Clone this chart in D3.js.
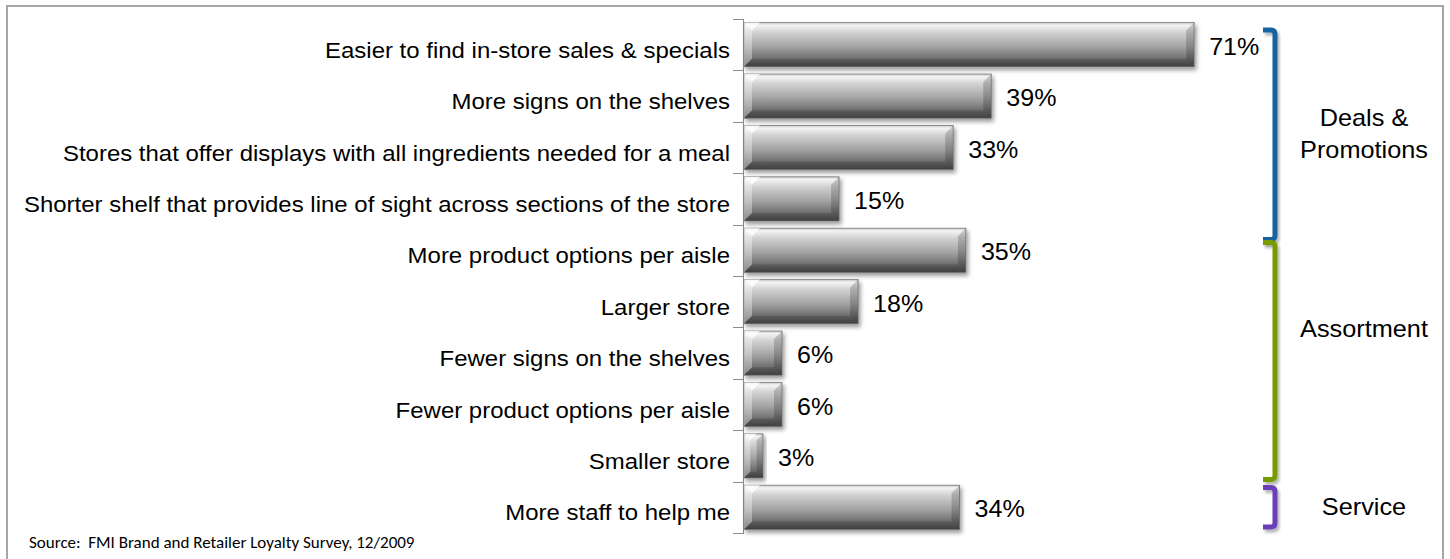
<!DOCTYPE html>
<html>
<head>
<meta charset="utf-8">
<script src="https://cdn.jsdelivr.net/npm/d3@7"></script>
<style>
  html, body { margin: 0; padding: 0; background: #fff; }
  svg { display: block; }
  text { white-space: pre; }
</style>
</head>
<body>
<svg id="chart" width="1450" height="559"></svg>
<script>
// Survey answers, top to bottom
const categories = [
  "Easier to find in-store sales & specials",
  "More signs on the shelves",
  "Stores that offer displays with all ingredients needed for a meal",
  "Shorter shelf that provides line of sight across sections of the store",
  "More product options per aisle",
  "Larger store",
  "Fewer signs on the shelves",
  "Fewer product options per aisle",
  "Smaller store",
  "More staff to help me"
];
const values = [71, 39, 33, 15, 35, 18, 6, 6, 3, 34];

// Theme groups: label lines, first and last answer index
const groupNames = [["Deals &", "Promotions"], ["Assortment"], ["Service"]];
const groupFirst = [0, 4, 9];
const groupLast  = [3, 8, 9];
const groupColors = ["#15649f", "#789c00", "#6b3fb8"];

const sourceNote = "Source:  FMI Brand and Retailer Loyalty Survey, 12/2009";

// ---- layout ----
const W = 1450, H = 559;
const axisX = 744;
const svg = d3.select("#chart");

const y = d3.scaleBand()
  .domain(d3.range(categories.length))
  .range([19, 533])
  .paddingInner(0.14)
  .paddingOuter(0.07);
const step = y.step();
const x = d3.scaleLinear().domain([0, 100]).range([axisX, axisX + 634]);

const defs = svg.append("defs");
const grad = defs.append("linearGradient")
  .attr("id", "barFill").attr("x1", 0).attr("y1", 0).attr("x2", 0).attr("y2", 1);
[[0, "#c4c4c4"], [0.06, "#f4f4f4"], [0.22, "#d2d2d2"], [0.55, "#a2a2a2"],
 [0.85, "#686868"], [1, "#4a4a4a"]].forEach(([o, c]) =>
  grad.append("stop").attr("offset", o).attr("stop-color", c));

const shadow = defs.append("filter").attr("id", "shadow")
  .attr("x", "-10%").attr("y", "-20%").attr("width", "130%").attr("height", "160%");
shadow.append("feDropShadow").attr("dx", 2).attr("dy", 3)
  .attr("stdDeviation", 2).attr("flood-color", "#000").attr("flood-opacity", 0.4);

const bshadow = defs.append("filter").attr("id", "bshadow")
  .attr("x", "-50%").attr("y", "-10%").attr("width", "200%").attr("height", "130%");
bshadow.append("feDropShadow").attr("dx", 2).attr("dy", 3)
  .attr("stdDeviation", 1.5).attr("flood-color", "#000").attr("flood-opacity", 0.3);

// outer frame
svg.append("rect")
  .attr("x", 7).attr("y", 6).attr("width", W - 14).attr("height", H)
  .attr("fill", "none").attr("stroke", "#a6a6a6").attr("stroke-width", 2);

// category axis with ticks on the band boundaries
const axisG = svg.append("g").attr("stroke", "#8c8c8c").attr("stroke-width", 1);
const y0 = y.range()[0], y1 = y.range()[1];
axisG.append("line")
  .attr("x1", axisX - 0.5).attr("x2", axisX - 0.5).attr("y1", y0).attr("y2", y1);
axisG.selectAll("line.tick")
  .data(d3.range(categories.length + 1))
  .join("line").attr("class", "tick")
  .attr("x1", axisX - 11).attr("x2", axisX)
  .attr("y1", i => Math.round(y0 + i * step) + 0.5)
  .attr("y2", i => Math.round(y0 + i * step) + 0.5);

// category labels
svg.append("g").selectAll("text")
  .data(categories)
  .join("text")
  .attr("transform", (d, i) => `translate(${axisX - 14},${y(i) + y.bandwidth() / 2 + 13}) scale(1.09,1)`)
  .attr("text-anchor", "end")
  .attr("font-family", "'Liberation Sans', Arial, sans-serif")
  .attr("font-size", 22)
  .attr("fill", "#000")
  .text(d => d);

// bars with bevelled ends
const bars = svg.append("g").selectAll("g.bar")
  .data(values)
  .join("g").attr("class", "bar");

bars.append("rect")
  .attr("x", x(0))
  .attr("y", (d, i) => y(i))
  .attr("width", d => x(d) - x(0))
  .attr("height", y.bandwidth())
  .attr("fill", "url(#barFill)")
  .attr("stroke", "#7c7c7c")
  .attr("stroke-width", 0.8)
  .attr("filter", "url(#shadow)");

const bevel = w => Math.min(8, w / 3);
// left bevel (lit)
bars.append("polygon")
  .attr("points", (d, i) => {
    const xa = x(0), xb = x(d), b = bevel(xb - xa), ya = y(i), yb = ya + y.bandwidth();
    return [[xa, ya], [xa + b, ya + b], [xa + b, yb - b], [xa, yb]].join(" ");
  })
  .attr("fill", "#fff").attr("fill-opacity", 0.35);
// top-left corner highlight
bars.append("polygon")
  .attr("points", (d, i) => {
    const xa = x(0), xb = x(d), b = bevel(xb - xa), ya = y(i);
    return [[xa, ya], [xa + b * 2, ya], [xa + b, ya + b]].join(" ");
  })
  .attr("fill", "#fff").attr("fill-opacity", 0.8);
// right bevel (shaded)
bars.append("polygon")
  .attr("points", (d, i) => {
    const xa = x(0), xb = x(d), b = bevel(xb - xa), ya = y(i), yb = ya + y.bandwidth();
    return [[xb, ya], [xb - b, ya + b], [xb - b, yb - b], [xb, yb]].join(" ");
  })
  .attr("fill", "#000").attr("fill-opacity", 0.18);
// bottom edge
bars.append("polygon")
  .attr("points", (d, i) => {
    const xa = x(0), xb = x(d), b = bevel(xb - xa), ya = y(i), yb = ya + y.bandwidth();
    return [[xa, yb], [xa + b, yb - b], [xb - b, yb - b], [xb, yb]].join(" ");
  })
  .attr("fill", "#000").attr("fill-opacity", 0.15);

// value labels
svg.append("g").selectAll("text")
  .data(values)
  .join("text")
  .attr("transform", (d, i) => `translate(${x(d) + 15},${y(i) + y.bandwidth() / 2 + 10}) scale(1.09,1)`)
  .attr("font-family", "'Liberation Sans', Arial, sans-serif")
  .attr("font-size", 23)
  .attr("fill", "#000")
  .text(d => d + "%");

// theme brackets on the right
const bracketX = 1275, hook = 12;
const bracketInset = [[11, 15], [18, -2], [6, -6]];
const labelX = 1364;
const labelShift = [-1, -32, 0];

groupNames.forEach((lines, g) => {
  const top = y0 + groupFirst[g] * step + bracketInset[g][0];
  const bottom = y0 + (groupLast[g] + 1) * step + bracketInset[g][1];
  const r = 4;
  const path = d3.path();
  path.moveTo(bracketX - hook, top);
  path.lineTo(bracketX - r, top);
  path.quadraticCurveTo(bracketX, top, bracketX, top + r);
  path.lineTo(bracketX, bottom - r);
  path.quadraticCurveTo(bracketX, bottom, bracketX - r, bottom);
  path.lineTo(bracketX - hook, bottom);
  svg.append("path")
    .attr("d", path.toString())
    .attr("fill", "none")
    .attr("stroke", groupColors[g])
    .attr("stroke-width", 5)
    .attr("filter", "url(#bshadow)");

  const mid = (top + bottom) / 2 + labelShift[g];
  const lh = 32;
  lines.forEach((t, k) => {
    const base = mid + 8 + (k - (lines.length - 1) / 2) * lh;
    svg.append("text")
      .attr("transform", `translate(${labelX},${base}) scale(1.1,1)`)
      .attr("text-anchor", "middle")
      .attr("font-family", "'Liberation Sans', Arial, sans-serif")
      .attr("font-size", 23)
      .attr("fill", "#000")
      .text(t);
  });
});

// source note
svg.append("text")
  .attr("x", 29).attr("y", 548)
  .attr("font-family", "Carlito, 'Open Sans', 'Noto Sans', sans-serif")
  .attr("font-size", 17)
  .attr("fill", "#000")
  .text(sourceNote);
</script>
</body>
</html>
